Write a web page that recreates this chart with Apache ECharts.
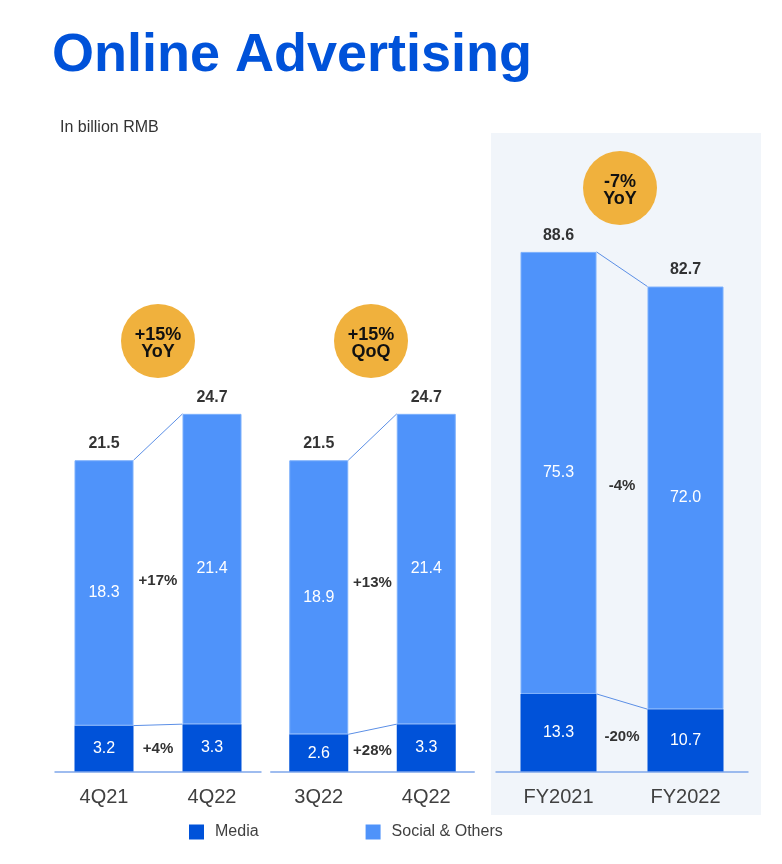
<!DOCTYPE html>
<html>
<head>
<meta charset="utf-8">
<title>Online Advertising</title>
<script src="https://cdn.jsdelivr.net/npm/echarts@6/dist/echarts.min.js"></script>
<style>
    html, body {margin: 0; padding: 0; background: #fff;}
    #main {width: 782px; height: 864px;}
</style>
</head>
<body>
<div id="main"></div>
<script>
// values in billion RMB
var cats1 = ['4Q21', '4Q22'];
var cats2 = ['3Q22', '4Q22'];
var cats3 = ['FY2021', 'FY2022'];

var media1 = [3.2, 3.3];
var social1 = [18.3, 21.4];
var total1 = [21.5, 24.7];

var media2 = [2.6, 3.3];
var social2 = [18.9, 21.4];
var total2 = [21.5, 24.7];

var media3 = [13.3, 10.7];
var social3 = [75.3, 72.0];
var total3 = [88.6, 82.7];

var socialChange = ['+17%', '+13%', '-4%'];
var mediaChange = ['+4%', '+28%', '-20%'];
var badges = ['+15%\nYoY', '+15%\nQoQ', '-7%\nYoY'];

var CATS = [cats1, cats2, cats3];
var MEDIA = [media1, media2, media3];
var SOCIAL = [social1, social2, social3];
var TOTAL = [total1, total2, total3];
var BAR_W = [59, 59, 76];
var EXT = [20, 19, 25];
var YMAX = [30, 30, 100];

var FONT = 'Liberation Sans, Arial, sans-serif';
var C_MEDIA = '#0052D9';
var C_SOCIAL = '#4F93FA';

var chart = echarts.init(document.getElementById('main'));

function fmt(p) {
    return p.value.toFixed(1);
}

// connectors, baseline and change labels between the two bars of a panel
function betweenBars(i) {
    return function (params, api) {
        var m = MEDIA[i], s = SOCIAL[i], t = TOTAL[i], half = BAR_W[i] / 2;
        var z0 = api.coord([0, 0]), z1 = api.coord([1, 0]);
        var a0 = api.coord([0, m[0]]), a1 = api.coord([1, m[1]]);
        var b0 = api.coord([0, t[0]]), b1 = api.coord([1, t[1]]);
        var cx = (z0[0] + z1[0]) / 2;
        var ySoc = (api.coord([0, m[0] + s[0] / 2])[1] + api.coord([1, m[1] + s[1] / 2])[1]) / 2;
        var yMed = (api.coord([0, m[0] / 2])[1] + api.coord([1, m[1] / 2])[1]) / 2;
        var ext = half + EXT[i];
        var lbl = {fill: '#333', font: 'bold 15px ' + FONT, align: 'center', verticalAlign: 'middle'};
        return {
            type: 'group',
            children: [
                {type: 'line', shape: {x1: z0[0] - ext, y1: z0[1], x2: z1[0] + ext, y2: z1[1]},
                    style: {stroke: '#7EA6EA', lineWidth: 1.5}},
                {type: 'line', shape: {x1: b0[0] + half, y1: b0[1], x2: b1[0] - half, y2: b1[1]},
                    style: {stroke: '#5B8FE6', lineWidth: 1}},
                {type: 'line', shape: {x1: a0[0] + half, y1: a0[1], x2: a1[0] - half, y2: a1[1]},
                    style: {stroke: '#5B8FE6', lineWidth: 1}},
                {type: 'text', x: cx, y: ySoc, style: echarts.util.extend({text: socialChange[i]}, lbl)},
                {type: 'text', x: cx, y: yMed, style: echarts.util.extend({text: mediaChange[i]}, lbl)}
            ]
        };
    };
}

var grids = [
    {left: 50, top: 337, width: 216, height: 435},
    {left: 265, top: 337, width: 215, height: 435},
    {left: 495, top: 185, width: 254, height: 587}
];

var xAxes = [], yAxes = [], series = [];
for (var i = 0; i < 3; i++) {
    xAxes.push({
        type: 'category', gridIndex: i, data: CATS[i],
        axisLine: {show: false}, axisTick: {show: false},
        axisLabel: {fontSize: 20, color: '#404040', margin: 15, fontFamily: FONT}
    });
    yAxes.push({type: 'value', gridIndex: i, min: 0, max: YMAX[i], show: false});

    series.push({
        name: 'Media', type: 'bar', xAxisIndex: i, yAxisIndex: i, stack: 'p' + i,
        barWidth: BAR_W[i], data: MEDIA[i],
        itemStyle: {color: C_MEDIA},
        label: {show: true, position: 'inside', color: '#fff', fontSize: 16, formatter: fmt}
    });
    series.push({
        name: 'Social & Others', type: 'bar', xAxisIndex: i, yAxisIndex: i, stack: 'p' + i,
        barWidth: BAR_W[i], data: SOCIAL[i],
        itemStyle: {color: C_SOCIAL, borderColor: '#7DB0FC', borderWidth: 1},
        label: {show: true, position: 'inside', color: '#fff', fontSize: 16, formatter: fmt}
    });
    series.push({
        type: 'scatter', xAxisIndex: i, yAxisIndex: i, data: TOTAL[i],
        symbolSize: 1, itemStyle: {color: 'transparent'}, silent: true,
        label: {show: true, position: 'top', distance: 8, color: '#000',
            fontSize: 16, fontWeight: 'bold', formatter: fmt}
    });
    series.push({
        type: 'custom', xAxisIndex: i, yAxisIndex: i, data: [[0, 0]], silent: true,
        z: 5, renderItem: betweenBars(i)
    });
}

function badge(x, y, text) {
    return {
        type: 'group', left: x - 37, top: y - 37,
        children: [
            {type: 'circle', shape: {cx: 37, cy: 37, r: 37}, style: {fill: '#F0B13D'}},
            {type: 'text', x: 37, y: 40, style: {text: text, fill: '#111', font: 'bold 18px ' + FONT,
                align: 'center', verticalAlign: 'middle', lineHeight: 17}}
        ]
    };
}

var option = {
    animation: false,
    textStyle: {fontFamily: FONT},
    graphic: [
        {type: 'rect', left: 491, top: 133, z: -10, shape: {width: 270, height: 682},
            style: {fill: '#F1F5FA'}},
        {type: 'text', left: 52, top: 29, style: {text: 'Online Advertising', fill: '#0052D9',
            font: 'bold 54px ' + FONT}},
        {type: 'text', left: 60, top: 120, style: {text: 'In billion RMB', fill: '#333',
            font: '16px ' + FONT}},
        badge(158, 341, badges[0]),
        badge(371, 341, badges[1]),
        badge(620, 188, badges[2])
    ],
    legend: {
        data: ['Media', 'Social & Others'],
        left: 189, top: 824, padding: 0, itemWidth: 15, itemHeight: 15, itemGap: 107, icon: 'rect',
        itemStyle: {borderWidth: 0},
        textStyle: {fontSize: 16, color: '#404040', padding: [0, 0, 0, 6]}
    },
    grid: grids,
    xAxis: xAxes,
    yAxis: yAxes,
    series: series
};

chart.setOption(option);
</script>
</body>
</html>
